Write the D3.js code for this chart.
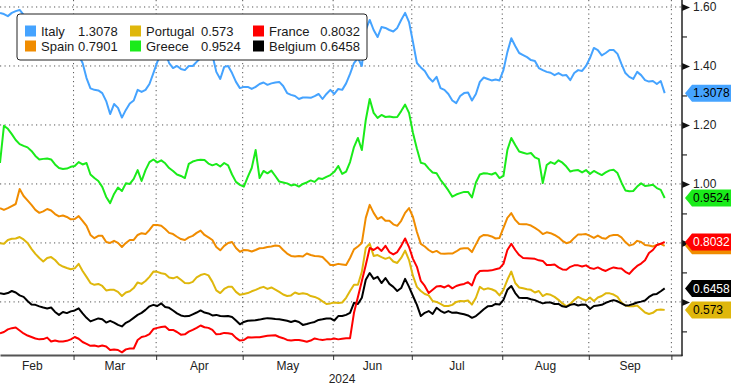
<!DOCTYPE html>
<html>
<head>
<meta charset="utf-8">
<script src="https://cdn.jsdelivr.net/npm/d3@7"></script>
<style>
body { margin: 0; background: #fff; }
svg text { font-family: "Liberation Sans", Arial, sans-serif; }
</style>
</head>
<body>
<div id="chart"></div>
<script>
// daily values, one per weekday from 5 Feb to 27 Sep 2024
var italy = [
  1.580,1.576,1.569,1.580,1.586,1.590,1.573,1.549,1.563,1.539,
  1.522,1.529,1.505,1.515,1.495,1.502,1.481,1.488,1.471,1.461,
  1.437,1.410,1.359,1.324,1.319,1.317,1.308,1.281,1.237,1.271,
  1.258,1.225,1.251,1.273,1.283,1.319,1.312,1.319,1.339,1.376,
  1.414,1.437,1.447,1.410,1.393,1.400,1.390,1.386,1.400,1.400,
  1.414,1.427,1.447,1.454,1.437,1.380,1.356,1.397,1.400,1.376,
  1.346,1.325,1.329,1.329,1.322,1.329,1.339,1.344,1.336,1.341,
  1.344,1.346,1.332,1.308,1.302,1.298,1.288,1.293,1.293,1.292,
  1.298,1.305,1.288,1.305,1.319,1.305,1.322,1.319,1.341,1.373,
  1.410,1.427,1.400,1.522,1.556,1.522,1.498,1.532,1.529,1.522,
  1.517,1.529,1.556,1.580,1.549,1.481,1.410,1.395,1.383,1.361,
  1.347,1.363,1.325,1.319,1.305,1.283,1.274,1.298,1.308,1.310,
  1.283,1.305,1.346,1.361,1.356,1.351,1.354,1.351,1.386,1.447,
  1.494,1.468,1.444,1.437,1.430,1.420,1.417,1.393,1.386,1.380,
  1.377,1.369,1.376,1.368,1.369,1.352,1.376,1.386,1.383,1.400,
  1.427,1.461,1.454,1.436,1.444,1.454,1.454,1.441,1.407,1.376,
  1.363,1.356,1.380,1.369,1.352,1.347,1.349,1.339,1.349,1.3078];

var spain = [
  0.918,0.912,0.918,0.925,0.932,0.983,0.959,0.944,0.929,0.912,
  0.902,0.907,0.915,0.910,0.898,0.890,0.893,0.888,0.880,0.881,
  0.891,0.875,0.858,0.827,0.816,0.824,0.824,0.803,0.800,0.807,
  0.800,0.786,0.800,0.810,0.810,0.827,0.833,0.830,0.844,0.861,
  0.861,0.858,0.847,0.834,0.830,0.821,0.813,0.810,0.819,0.824,
  0.834,0.842,0.827,0.819,0.810,0.786,0.775,0.790,0.800,0.803,
  0.783,0.770,0.776,0.775,0.771,0.776,0.782,0.783,0.786,0.788,
  0.791,0.790,0.776,0.764,0.756,0.754,0.756,0.754,0.764,0.759,
  0.756,0.755,0.752,0.739,0.725,0.725,0.729,0.727,0.725,0.749,
  0.778,0.788,0.800,0.885,0.929,0.902,0.881,0.888,0.875,0.875,
  0.863,0.858,0.875,0.902,0.918,0.888,0.837,0.797,0.788,0.776,
  0.768,0.773,0.764,0.763,0.764,0.764,0.771,0.780,0.782,0.782,
  0.769,0.795,0.820,0.827,0.826,0.822,0.815,0.817,0.851,0.885,
  0.901,0.878,0.864,0.863,0.863,0.859,0.851,0.842,0.830,0.836,
  0.833,0.827,0.819,0.807,0.799,0.803,0.817,0.829,0.829,0.830,
  0.824,0.817,0.825,0.817,0.814,0.824,0.827,0.827,0.819,0.803,
  0.791,0.795,0.807,0.803,0.793,0.791,0.788,0.793,0.797,0.7901];

var portugal = [
  0.799,0.797,0.810,0.814,0.815,0.820,0.812,0.800,0.780,0.763,
  0.749,0.737,0.749,0.752,0.742,0.727,0.720,0.715,0.711,0.714,
  0.729,0.705,0.685,0.664,0.658,0.661,0.654,0.639,0.641,0.641,
  0.634,0.620,0.632,0.636,0.647,0.666,0.661,0.671,0.685,0.703,
  0.702,0.697,0.695,0.683,0.680,0.685,0.675,0.664,0.663,0.668,
  0.683,0.691,0.695,0.690,0.668,0.639,0.630,0.644,0.651,0.651,
  0.634,0.624,0.627,0.630,0.636,0.641,0.647,0.651,0.644,0.649,
  0.642,0.634,0.625,0.620,0.622,0.632,0.627,0.629,0.627,0.620,
  0.617,0.611,0.602,0.593,0.595,0.598,0.596,0.598,0.614,0.637,
  0.658,0.658,0.702,0.783,0.797,0.756,0.759,0.752,0.746,0.751,
  0.737,0.732,0.749,0.774,0.742,0.688,0.651,0.637,0.627,0.622,
  0.603,0.600,0.593,0.586,0.586,0.590,0.600,0.603,0.602,0.605,
  0.591,0.614,0.651,0.642,0.646,0.643,0.637,0.622,0.641,0.675,
  0.703,0.664,0.649,0.646,0.643,0.641,0.632,0.637,0.620,0.627,
  0.624,0.617,0.607,0.595,0.585,0.593,0.607,0.617,0.610,0.605,
  0.615,0.603,0.615,0.620,0.629,0.629,0.625,0.617,0.598,0.588,
  0.585,0.585,0.588,0.576,0.564,0.559,0.563,0.573,0.574,0.573];

var greece = [
  1.071,1.197,1.187,1.169,1.149,1.135,1.129,1.124,1.112,1.095,
  1.083,1.085,1.086,1.083,1.066,1.054,1.051,1.052,1.058,1.061,
  1.074,1.066,1.071,1.032,1.020,1.010,0.990,0.956,0.935,0.966,
  0.988,0.976,1.002,1.000,1.017,1.047,1.010,1.047,1.074,1.083,
  1.073,1.080,1.070,1.054,1.044,1.032,1.027,1.020,1.068,1.076,
  1.080,1.082,1.081,1.069,1.063,1.068,1.059,1.071,1.063,1.032,
  1.007,0.997,0.991,1.024,1.054,1.115,1.020,1.044,1.036,1.045,
  1.027,1.008,1.005,1.002,0.995,0.998,0.991,1.000,1.005,1.012,
  1.007,1.019,1.017,1.024,1.030,1.041,1.061,1.034,1.042,1.074,
  1.125,1.156,1.115,1.217,1.288,1.241,1.224,1.234,1.227,1.229,
  1.226,1.227,1.247,1.269,1.241,1.173,1.119,1.072,1.068,1.052,
  1.039,1.036,1.014,0.997,0.978,0.957,0.964,0.969,0.973,0.973,
  0.954,1.005,1.032,1.036,1.035,1.032,1.038,1.020,1.027,1.115,
  1.156,1.132,1.110,1.106,1.102,1.105,1.090,1.084,1.003,1.064,
  1.074,1.068,1.080,1.072,1.059,1.042,1.046,1.047,1.039,1.047,
  1.034,1.044,1.037,1.030,1.039,1.046,1.048,1.037,1.005,0.978,
  0.975,0.976,0.991,1.002,0.993,0.995,0.997,0.986,0.980,0.9524];

var france = [
  0.494,0.498,0.507,0.511,0.513,0.503,0.493,0.486,0.481,0.476,
  0.473,0.474,0.479,0.466,0.469,0.466,0.466,0.468,0.473,0.481,
  0.475,0.464,0.458,0.451,0.452,0.449,0.452,0.449,0.437,0.439,
  0.437,0.429,0.439,0.442,0.442,0.471,0.481,0.484,0.491,0.508,
  0.512,0.515,0.517,0.505,0.505,0.498,0.489,0.490,0.499,0.505,
  0.512,0.520,0.514,0.512,0.505,0.490,0.491,0.495,0.494,0.491,
  0.478,0.469,0.471,0.480,0.479,0.480,0.480,0.483,0.485,0.486,
  0.487,0.481,0.477,0.471,0.469,0.471,0.471,0.468,0.465,0.469,
  0.476,0.473,0.471,0.473,0.473,0.476,0.473,0.475,0.477,0.477,
  0.563,0.617,0.671,0.725,0.783,0.776,0.785,0.773,0.790,0.769,
  0.761,0.769,0.790,0.815,0.786,0.746,0.719,0.671,0.654,0.630,
  0.641,0.652,0.654,0.649,0.656,0.646,0.654,0.658,0.661,0.667,
  0.656,0.691,0.705,0.706,0.706,0.707,0.711,0.714,0.729,0.776,
  0.797,0.776,0.759,0.749,0.748,0.747,0.746,0.741,0.739,0.725,
  0.725,0.727,0.717,0.710,0.709,0.719,0.724,0.724,0.720,0.724,
  0.715,0.712,0.717,0.710,0.705,0.712,0.717,0.714,0.713,0.702,
  0.695,0.710,0.722,0.730,0.741,0.766,0.776,0.793,0.797,0.8032];

var belgium = [
  0.629,0.627,0.630,0.637,0.632,0.622,0.617,0.603,0.591,0.590,
  0.585,0.581,0.578,0.581,0.566,0.556,0.566,0.562,0.568,0.571,
  0.578,0.561,0.546,0.534,0.539,0.544,0.541,0.530,0.536,0.530,
  0.522,0.517,0.529,0.536,0.546,0.556,0.563,0.573,0.585,0.590,
  0.586,0.595,0.583,0.580,0.571,0.561,0.554,0.551,0.552,0.558,
  0.564,0.571,0.564,0.561,0.554,0.556,0.552,0.551,0.552,0.549,
  0.537,0.524,0.532,0.536,0.537,0.538,0.540,0.543,0.545,0.544,
  0.542,0.541,0.539,0.536,0.532,0.536,0.532,0.522,0.525,0.529,
  0.532,0.539,0.541,0.544,0.544,0.537,0.552,0.552,0.556,0.563,
  0.597,0.593,0.614,0.675,0.698,0.678,0.685,0.664,0.681,0.661,
  0.651,0.637,0.647,0.678,0.651,0.620,0.590,0.552,0.563,0.569,
  0.559,0.580,0.570,0.563,0.569,0.563,0.564,0.561,0.558,0.554,
  0.546,0.552,0.563,0.575,0.585,0.586,0.593,0.591,0.607,0.641,
  0.654,0.630,0.614,0.613,0.613,0.609,0.606,0.600,0.595,0.598,
  0.598,0.593,0.593,0.585,0.583,0.590,0.593,0.588,0.591,0.590,
  0.576,0.586,0.588,0.590,0.597,0.602,0.606,0.602,0.595,0.588,
  0.589,0.593,0.598,0.601,0.605,0.617,0.625,0.627,0.636,0.6458];

var seriesNames = ["Italy", "Spain", "Portugal", "Greece", "France", "Belgium"];
var lastValues = ["1.3078", "0.7901", "0.573", "0.9524", "0.8032", "0.6458"];
var monthLabels = ["Feb", "Mar", "Apr", "May", "Jun", "Jul", "Aug", "Sep"];
var yearLabel = "2024";
var labelTicks = [1.0, 1.2, 1.4, 1.6];   // 0.80 and 0.60 sit under the value tags
var majorTicks = [0.6, 0.8, 1.0, 1.2, 1.4, 1.6];
var minorTicks = [0.5, 0.7, 0.9, 1.1, 1.3, 1.5];

var seriesData = [italy, spain, portugal, greece, france, belgium];
var colors = ["#45a3ff", "#f08c00", "#dfb70c", "#1aeb1a", "#ff0000", "#000000"];
var tagText = ["#000", "#000", "#000", "#000", "#fff", "#fff"];

var width = 731, height = 386;
var plotRight = 682, plotBottom = 355;

// trading-day calendar (weekdays only)
var allDays = d3.timeDay.range(new Date(2024, 1, 1), new Date(2024, 9, 8))
  .filter(function (d) { return d.getDay() != 0 && d.getDay() != 6; });
var firstIdx = 2; // Feb 5 is the third weekday of Feb
function dayIndex(d) { return allDays.findIndex(function (a) { return a >= d; }) - firstIdx; }

var x = d3.scaleLinear().domain([0, 173.4]).range([0, plotRight]);
var y = d3.scaleLinear().domain([0.42, 1.6237]).range([plotBottom, 0]);

// month boundaries (first trading day of each month)
var bounds = [];
for (var m = 1; m <= 9; m++) {
  bounds.push(dayIndex(new Date(2024, m, 1)) - 0.3);
}

var svg = d3.select("#chart").append("svg")
  .attr("width", width)
  .attr("height", height);

svg.append("defs").append("clipPath").attr("id", "plotclip")
  .append("rect").attr("x", 0).attr("y", 0)
  .attr("width", plotRight).attr("height", plotBottom);

// grid
var grid = svg.append("g");
grid.selectAll(".hgrid").data(majorTicks).enter().append("line")
  .attr("x1", 0).attr("x2", plotRight)
  .attr("y1", function (d) { return y(d); }).attr("y2", function (d) { return y(d); })
  .attr("stroke", "#555").attr("stroke-width", 1).attr("stroke-dasharray", "1.2,3.3");
grid.selectAll(".vgrid").data(bounds.slice(1)).enter().append("line")
  .attr("x1", function (d) { return x(d); }).attr("x2", function (d) { return x(d); })
  .attr("y1", 0).attr("y2", plotBottom)
  .attr("stroke", "#555").attr("stroke-width", 1).attr("stroke-dasharray", "1.2,3.3");

// lines
var line = d3.line()
  .x(function (d, i) { return x(i); })
  .y(function (d) { return y(d); });

var lineOrder = [0, 1, 2, 3, 5, 4];
svg.append("g").attr("clip-path", "url(#plotclip)")
  .selectAll("path").data(lineOrder).enter().append("path")
  .attr("d", function (k) { return line(seriesData[k]); })
  .attr("fill", "none")
  .attr("stroke", function (k) { return colors[k]; })
  .attr("stroke-width", 2)
  .attr("stroke-linejoin", "round");

// bottom axis
var xAxis = svg.append("g")
  .attr("transform", "translate(0," + plotBottom + ")")
  .call(d3.axisBottom(x).tickValues(bounds.slice(1)).tickSize(5).tickSizeOuter(0).tickFormat(""));
xAxis.select(".domain").attr("stroke", "#555").attr("stroke-width", 2);
xAxis.selectAll(".tick line").attr("stroke", "#333");

svg.selectAll(".month").data(monthLabels).enter().append("text")
  .attr("x", function (d, i) { return (x(bounds[i]) + x(bounds[i + 1])) / 2; })
  .attr("y", 370)
  .attr("text-anchor", "middle")
  .attr("font-size", 12)
  .attr("fill", "#222")
  .text(function (d) { return d; });
svg.append("text")
  .attr("x", 342).attr("y", 383)
  .attr("text-anchor", "middle")
  .attr("font-size", 12)
  .attr("fill", "#222")
  .text(yearLabel);

// right axis
var yAxis = svg.append("g").attr("transform", "translate(" + plotRight + ",0)");
yAxis.call(d3.axisRight(y).tickValues(minorTicks).tickSize(5).tickFormat(""));
yAxis.select(".domain").remove();
var yMajor = svg.append("g").attr("transform", "translate(" + plotRight + ",0)")
  .call(d3.axisRight(y).tickValues(majorTicks).tickSize(0).tickPadding(11)
    .tickFormat(function (d) { return labelTicks.indexOf(d) >= 0 ? d3.format(".2f")(d) : ""; }));
yMajor.select(".domain").remove();
yMajor.selectAll(".tick text").attr("font-size", 12).attr("fill", "#222")
  .attr("font-family", "Liberation Sans, Arial, sans-serif");
yMajor.selectAll(".tick").append("path")
  .attr("d", "M0,-3.5L8,0L0,3.5Z").attr("fill", "#111");
svg.append("line")
  .attr("x1", plotRight).attr("x2", plotRight)
  .attr("y1", 0).attr("y2", plotBottom + 1)
  .attr("stroke", "#222").attr("stroke-width", 1.5);

// last value tags (Spain's tag sits behind France's, only its edge shows)
var tagOrder = [0, 3, 1, 4, 5, 2];
var tags = svg.selectAll(".tag").data(tagOrder).enter().append("g")
  .attr("transform", function (k) { return "translate(0," + y(+lastValues[k]) + ")"; });
tags.append("path")
  .attr("d", "M685,0L692,-8.5L731,-8.5L731,8.5L692,8.5Z")
  .attr("fill", function (k) { return colors[k]; });
tags.filter(function (k) { return k != 1; }).append("text")
  .attr("x", 693).attr("y", 4.3)
  .attr("font-size", 12)
  .attr("fill", function (k) { return tagText[k]; })
  .text(function (k) { return lastValues[k]; });

// legend
var legend = svg.append("g");
legend.append("rect")
  .attr("x", 17).attr("y", 14).attr("width", 350).attr("height", 46).attr("rx", 3)
  .attr("fill", "#fff").attr("stroke", "#222").attr("stroke-width", 1);
var legendCols = [
  { sw: 25, name: 41, val: 78, anchor: "start" },
  { sw: 130, name: 146, val: 201, anchor: "start" },
  { sw: 253, name: 269, val: 360, anchor: "end" }
];
var legendLayout = [0, 2, 4, 1, 3, 5]; // row-major order of series
legendLayout.forEach(function (k, j) {
  var col = legendCols[j % 3];
  var row = Math.floor(j / 3);
  var cy = 31 + row * 15;
  legend.append("rect")
    .attr("x", col.sw).attr("y", cy - 5.5).attr("width", 11).attr("height", 11)
    .attr("fill", colors[k]);
  legend.append("text")
    .attr("x", col.name).attr("y", cy + 4.5)
    .attr("font-size", 13).attr("fill", "#1a1a1a")
    .text(seriesNames[k]);
  legend.append("text")
    .attr("x", col.val).attr("y", cy + 4.5)
    .attr("text-anchor", col.anchor)
    .attr("font-size", 13).attr("fill", "#1a1a1a")
    .text(lastValues[k]);
});
</script>
</body>
</html>
